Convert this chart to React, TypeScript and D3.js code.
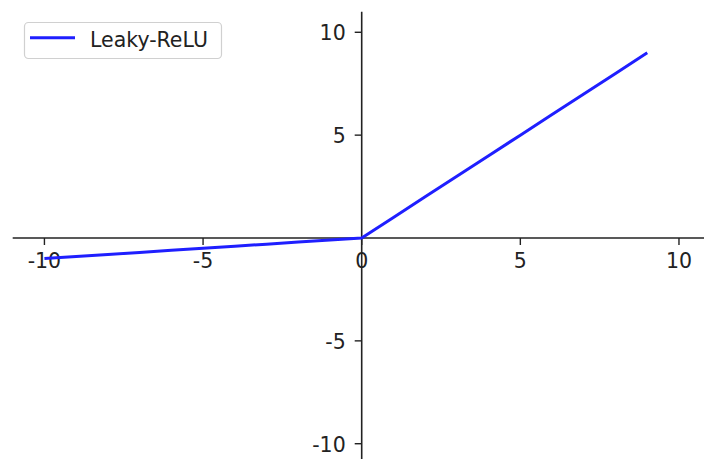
import React from "react";
import * as d3 from "d3";

const xValues = [-10, -9, -8, -7, -6, -5, -4, -3, -2, -1, 0, 1, 2, 3, 4, 5, 6, 7, 8, 9];
const yValues = [-1, -0.9, -0.8, -0.7, -0.6, -0.5, -0.4, -0.3, -0.2, -0.1, 0, 1, 2, 3, 4, 5, 6, 7, 8, 9];
const xTicks = [-10, -5, 0, 5, 10];
const yTicks = [-10, -5, 5, 10];
const seriesName = "Leaky-ReLU";

const W = 704;
const H = 459;

export default function App() {
  const x = d3.scaleLinear().domain([-11, 11]).range([12.7, 710.7]);
  const y = d3.scaleLinear().domain([-11, 11]).range([464.3, 11.7]);
  const line = d3
    .line<number>()
    .x((_, i) => x(xValues[i]))
    .y((d) => y(d));
  const font = "'DejaVu Sans', sans-serif";
  const fs = 20.5;
  return (
    <svg
      width={W}
      height={H}
      style={{ position: "fixed", left: 0, top: 0, background: "#fff" }}
    >
      <rect x={0} y={0} width={W} height={H} fill="#fff" />
      {/* x axis spine */}
      <line x1={x(-11)} x2={x(11)} y1={y(0)} y2={y(0)} stroke="#222" strokeWidth={1.6} />
      {/* y axis spine */}
      <line x1={x(0)} x2={x(0)} y1={y(11)} y2={y(-11)} stroke="#222" strokeWidth={1.6} />
      {xTicks.map((t) => (
        <g key={"xt" + t}>
          <line x1={x(t)} x2={x(t)} y1={y(0)} y2={y(0) + 7} stroke="#222" strokeWidth={1.4} />
          <text
            x={x(t)}
            y={y(0) + 30}
            textAnchor="middle"
            fontFamily={font}
            fontSize={fs}
            fill="#222"
          >
            {t < 0 ? "-" + Math.abs(t) : String(t)}
          </text>
        </g>
      ))}
      {yTicks.map((t) => (
        <g key={"yt" + t}>
          <line x1={x(0) - 7} x2={x(0)} y1={y(t)} y2={y(t)} stroke="#222" strokeWidth={1.4} />
          <text
            x={x(0) - 16}
            y={y(t)}
            dy="0.4em"
            textAnchor="end"
            fontFamily={font}
            fontSize={fs}
            fill="#222"
          >
            {t < 0 ? "-" + Math.abs(t) : String(t)}
          </text>
        </g>
      ))}
      <path
        d={line(yValues) || ""}
        fill="none"
        stroke="#1f1fff"
        strokeWidth={3}
        strokeLinejoin="round"
      />
      {/* legend */}
      <g>
        <rect
          x={24.5}
          y={22.5}
          width={197}
          height={36}
          rx={4}
          fill="#fff"
          fillOpacity={0.8}
          stroke="#d0d0d0"
          strokeWidth={1.2}
        />
        <line x1={30} x2={75} y1={37.7} y2={37.7} stroke="#1f1fff" strokeWidth={3} />
        <text x={90} y={46.5} fontFamily={font} fontSize={fs} fill="#222">
          {seriesName}
        </text>
      </g>
    </svg>
  );
}
